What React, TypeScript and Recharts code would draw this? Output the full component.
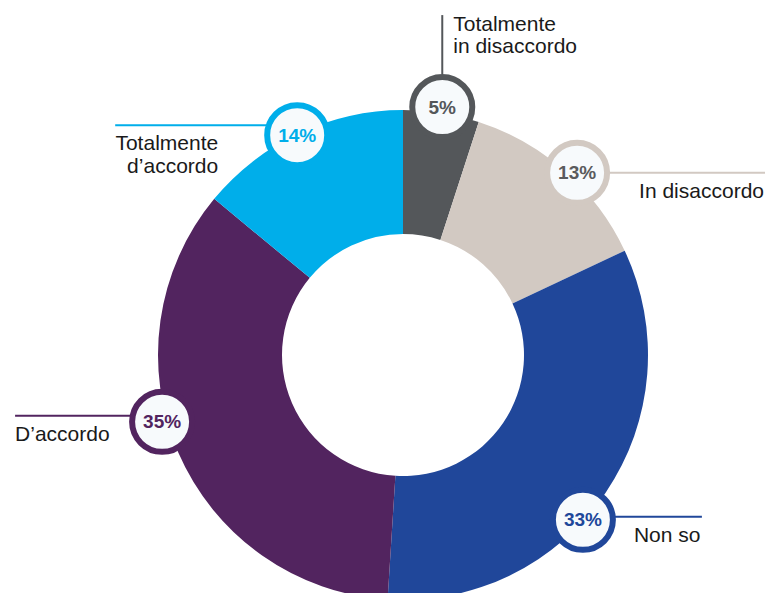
import { Pie, PieChart, Cell } from 'recharts'

const categories = [
  'Totalmente in disaccordo',
  'In disaccordo',
  'Non so',
  "D’accordo",
  "Totalmente d’accordo",
]
const shares = [5, 13, 33, 35, 14]
const labelLines = [
  ['Totalmente', 'in disaccordo'],
  ['In disaccordo'],
  ['Non so'],
  ['D’accordo'],
  ['Totalmente', 'd’accordo'],
]

const COLORS = ['#54575a', '#d2c9c2', '#20479a', '#52245f', '#00aeea']
const PCT_COLORS = ['#54575a', '#5a5b5d', '#20479a', '#52245f', '#00aeea']

// per-slice callout layout: angle shift, radial offset, leader line and text placement (relative to the bubble)
const CALLOUTS = [
  { shift: 0, dr: 6, lx: 0, ly: -92, lineY: 0, tx: 11, ty: [-76, -54], anchor: 'start' },
  { shift: 2.3, dr: 7, lx: 188, ly: 0, lineY: 0, tx: 62, ty: [25], anchor: 'start' },
  { shift: 8.3, dr: -1, lx: 119, ly: 0, lineY: -3, tx: 51, ty: [22], anchor: 'start' },
  { shift: 7.9, dr: 5, lx: -147, ly: 0, lineY: -6, tx: -147, ty: [19], anchor: 'start' },
  { shift: -0.5, dr: -1, lx: -182, ly: 0, lineY: -10, tx: -79, ty: [15, 38], anchor: 'end' },
]

const data = categories.map((name, i) => ({ name, value: shares[i] }))

const FONT = '"Liberation Sans", Arial, sans-serif'
const BUBBLE_R = 30

const renderCallout = (props: any) => {
  const { cx, cy, midAngle, outerRadius, index } = props
  const c = CALLOUTS[index]
  const a = ((90 - midAngle + c.shift) * Math.PI) / 180
  const r = outerRadius + c.dr
  const x = cx + r * Math.sin(a)
  const y = cy - r * Math.cos(a)
  const color = COLORS[index]

  let x1 = x
  let y1 = y + c.lineY
  if (c.ly < 0) y1 = y - BUBBLE_R - 3
  else if (c.lx > 0) x1 = x + BUBBLE_R
  else x1 = x - BUBBLE_R

  return (
    <g key={`callout-${index}`}>
      <line
        x1={x1}
        y1={y1}
        x2={x + c.lx}
        y2={c.ly < 0 ? y + c.ly : y + c.lineY}
        stroke={color}
        strokeWidth={2}
      />
      <circle cx={x} cy={y} r={BUBBLE_R} fill="#f7fafc" stroke={color} strokeWidth={6} />
      <text
        x={x}
        y={y}
        textAnchor="middle"
        dominantBaseline="central"
        fontFamily={FONT}
        fontWeight="bold"
        fontSize={19}
        fill={PCT_COLORS[index]}
      >
        {`${shares[index]}%`}
      </text>
      {labelLines[index].map((t, k) => (
        <text
          key={k}
          x={x + c.tx}
          y={y + c.ty[k]}
          textAnchor={c.anchor as any}
          fontFamily={FONT}
          fontSize={21}
          fill="#1a1a1a"
        >
          {t}
        </text>
      ))}
    </g>
  )
}

export default function App() {
  return (
    <div style={{ position: 'fixed', left: 0, top: 0, background: '#fff' }}>
      <PieChart width={765} height={593} margin={{ top: 0, right: 0, bottom: 0, left: 0 }}>
        <Pie
          data={data}
          dataKey="value"
          nameKey="name"
          cx={403}
          cy={355}
          innerRadius={121}
          outerRadius={245}
          startAngle={90}
          endAngle={-270}
          stroke="none"
          label={renderCallout}
          labelLine={false}
          isAnimationActive={false}
        >
          {data.map((entry, index) => (
            <Cell key={`cell-${index}`} fill={COLORS[index]} />
          ))}
        </Pie>
      </PieChart>
    </div>
  )
}
